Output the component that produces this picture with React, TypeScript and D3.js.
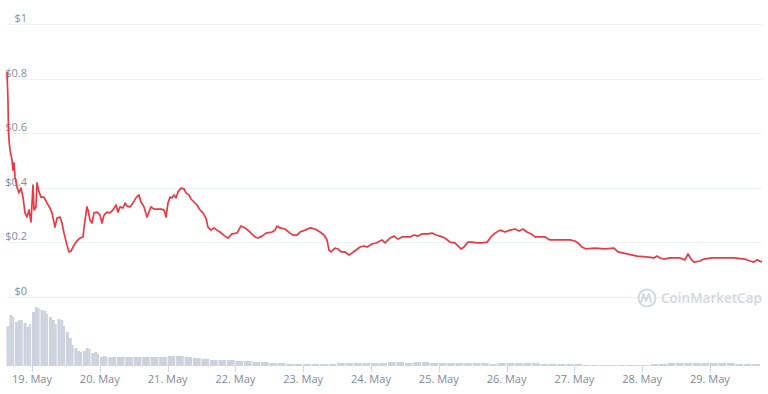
import React from "react";
import * as d3 from "d3";

// Hours relative to 19 May 00:00 (UTC)
const priceHours = [
  -8.85, -8.5, -8.32, -8.14, -7.79, -7.08, -6.73, -6.37, -6.02, -5.31, -4.6, -3.89, -3.19, -2.48, -1.77, -1.06, -0.35,
  0.35, 0.71, 1.42, 1.77, 2.48, 3.19, 4.25, 5.31, 6.37, 7.08, 8.14, 8.85, 9.91, 10.62, 11.33, 12.39, 13.1, 13.81,
  14.51, 15.58, 16.28, 16.99, 18.05, 18.76, 19.47, 19.82, 20.53, 21.24, 21.95, 23.01, 24.07, 24.78, 25.49, 26.55,
  27.61, 28.67, 29.74, 30.44, 31.15, 32.21, 32.92, 33.63, 34.69, 35.75, 36.82, 37.88, 38.59, 39.65, 40.71, 41.42,
  42.13, 43.19, 44.6, 45.67, 46.73, 47.44, 48.14, 48.85, 49.56, 50.27, 50.98, 51.68, 52.75, 53.81, 54.52, 55.58,
  56.29, 57.35, 58.41, 59.47, 60.53, 61.6, 62.3, 63.37, 64.43, 65.49, 66.55, 68.32, 69.38, 70.8, 72.57, 73.99,
  75.4, 77.17, 78.94, 80.0, 81.42, 82.84, 84.96, 86.02, 86.73, 87.79, 89.56, 91.33, 92.39, 93.81, 94.87, 96.64,
  98.41, 100.18, 101.95, 103.37, 104.43, 105.14, 105.85, 107.26, 108.32, 109.39, 110.8, 112.22, 113.28, 114.7,
  116.11, 117.53, 118.59, 120.36, 121.78, 123.9, 124.96, 126.73, 128.15, 129.56, 130.98, 133.81, 135.23, 136.64,
  138.06, 140.18, 141.6, 143.02, 144.43, 146.2, 147.97, 149.74, 150.8, 151.87, 152.93, 154.34, 155.76, 157.53,
  159.3, 161.07, 162.49, 163.9, 165.67, 167.44, 169.21, 170.98, 172.4, 173.81, 175.23, 176.65, 178.06, 179.83,
  181.6, 183.37, 186.91, 188.68, 190.45, 192.22, 193.28, 194.7, 196.12, 199.3, 202.84, 206.03, 207.44, 210.63,
  214.17, 217.36, 220.19, 221.25, 222.31, 223.73, 225.85, 229.39, 231.16, 232.22, 233.29, 234.35, 236.47, 237.89,
  240.72, 244.61, 248.5, 252.4, 254.17, 255.59, 256.65, 258.42,
];
const priceValues = [
  0.824, 0.72, 0.61, 0.575, 0.538, 0.502, 0.465, 0.491, 0.44, 0.403, 0.381, 0.399, 0.366, 0.308, 0.293, 0.319, 0.275,
  0.41, 0.319, 0.33, 0.418, 0.385, 0.366, 0.366, 0.344, 0.326, 0.308, 0.256, 0.289, 0.293, 0.271, 0.234, 0.19, 0.165, 0.168,
  0.183, 0.201, 0.209, 0.216, 0.22, 0.282, 0.33, 0.319, 0.282, 0.271, 0.308, 0.311, 0.3, 0.271, 0.3, 0.311,
  0.308, 0.319, 0.337, 0.311, 0.33, 0.326, 0.344, 0.333, 0.33, 0.344, 0.363, 0.374, 0.348, 0.33, 0.293, 0.311,
  0.33, 0.322, 0.322, 0.322, 0.319, 0.293, 0.344, 0.366, 0.363, 0.374, 0.363, 0.385, 0.399, 0.396, 0.381, 0.374,
  0.359, 0.348, 0.337, 0.319, 0.308, 0.289, 0.256, 0.245, 0.253, 0.245, 0.238, 0.223, 0.216, 0.231, 0.234, 0.26,
  0.253, 0.238, 0.22, 0.216, 0.223, 0.234, 0.238, 0.245, 0.26, 0.253, 0.249, 0.234, 0.227, 0.227, 0.238, 0.245,
  0.253, 0.249, 0.238, 0.227, 0.209, 0.172, 0.165, 0.179, 0.176, 0.165, 0.165, 0.154, 0.161, 0.172,
  0.183, 0.187, 0.183, 0.194, 0.198, 0.209, 0.198, 0.216, 0.223, 0.212, 0.22, 0.22, 0.227, 0.223,
  0.231, 0.231, 0.234, 0.227, 0.223, 0.216, 0.201, 0.198, 0.187, 0.176, 0.183, 0.201, 0.201, 0.198,
  0.198, 0.201, 0.22, 0.234, 0.245, 0.238, 0.245, 0.249, 0.242, 0.249, 0.238, 0.231, 0.22, 0.22,
  0.22, 0.209, 0.209, 0.209, 0.209, 0.205, 0.198, 0.183, 0.176, 0.179, 0.176, 0.179, 0.165, 0.158,
  0.15, 0.147, 0.143, 0.15, 0.143, 0.139, 0.143, 0.143, 0.136, 0.158, 0.139, 0.128, 0.132, 0.139,
  0.143, 0.143, 0.143, 0.139, 0.132, 0.128, 0.136, 0.128,
];

// Volume: hourly for the first 36 hours, then 3-hour buckets (relative units)
const volumeHourlyStart = -9;
const volumeHourly = [
  40, 51, 49, 44, 46, 46, 43, 39, 42, 54, 59, 58, 56, 55, 52, 49, 46, 42, 47, 46, 40, 34, 28, 21, 18, 15, 14, 15,
  18, 17, 13, 14, 12, 9, 10, 9,
];
const volume3hStart = 27;
const volume3h = [
  9, 9, 9, 9, 9, 9, 9, 10, 10, 9, 8, 7, 6, 6, 6, 5, 5, 4, 4, 3, 3,
  2, 2, 2, 2, 2, 2, 3, 3, 3, 3, 3, 3, 4, 4, 3, 4, 4, 3, 3, 3, 3, 3, 3, 3, 2, 3, 3, 3, 3, 3, 2, 2, 2, 2, 2, 1, 1,
  1, 1, 1, 1, 1, 1, 2, 2, 3, 3, 3, 3, 3, 3, 3, 3, 2, 2, 2,
];

const yTicks = [0, 0.2, 0.4, 0.6, 0.8, 1];

const BASE = Date.UTC(2021, 4, 19);
const toDate = (h: number) => new Date(BASE + h * 3600 * 1000);

export default function App() {
  const W = 768, H = 394;
  const dates = priceHours.map(toDate);
  const x = d3.scaleUtc().domain([dates[0], dates[dates.length - 1]]).range([7, 762]);
  const y = d3.scaleLinear().domain([0, 1]).range([297, 24]);
  const vy = d3.scaleLinear().domain([0, 61]).range([366, 305]);

  const data = priceHours.map((h, i) => ({ d: toDate(h), v: priceValues[i] }));
  const line = d3.line<{ d: Date; v: number }>().x((p) => x(p.d)).y((p) => y(p.v));

  const bars: { h0: number; h1: number; v: number; gap: number }[] = [];
  volumeHourly.forEach((v, j) => {
    const h0 = volumeHourlyStart + j;
    bars.push({ h0, h1: h0 + 1, v, gap: j % 3 === 2 ? 0.8 : -0.2 });
  });
  volume3h.forEach((v, i) => {
    const h0 = volume3hStart + i * 3;
    bars.push({ h0, h1: h0 + 3, v, gap: 0.8 });
  });

  const xTicks = d3.utcDay.range(new Date(BASE), new Date(BASE + 11 * 86400000));
  const fmt = d3.utcFormat("%-d. %b");

  const font = "'Open Sans', 'Noto Sans', sans-serif";

  return (
    <svg width={W} height={H} style={{ position: "absolute", left: 0, top: 0, background: "#fff" }}>
      {yTicks.map((t) => (
        <line key={"g" + t} x1={7} x2={762} y1={Math.round(y(t)) + 0.5} y2={Math.round(y(t)) + 0.5} stroke="#eff2f5" strokeWidth={1} />
      ))}
      {bars.map((b, i) => {
        const x0 = x(toDate(b.h0));
        const x1 = Math.min(762, x(toDate(b.h1)));
        return (
          <rect key={"v" + i} x={x0} y={vy(b.v)} width={Math.max(0, x1 - x0 - b.gap)} height={366 - vy(b.v)} fill="#cdd2de" />
        );
      })}
      <g>
        <circle cx={647} cy={298} r={8.5} fill="none" stroke="#d3d8e1" strokeWidth={2} />
        <path d="M641,302 L643.5,294 L646,301 L649,294 L651,302" fill="none" stroke="#d3d8e1" strokeWidth={2} strokeLinejoin="round" strokeLinecap="round" />
        <text x={661} y={303} fontFamily={font} fontSize={13.5} fontWeight={600} fill="#d3d8e1">CoinMarketCap</text>
      </g>
      {yTicks.map((t) => (
        <text key={"l" + t} x={27} y={y(t) - 2} textAnchor="end" fontFamily={font} fontSize={11} fill="#858ca2">
          {"$" + String(t)}
        </text>
      ))}
      <path d={line(data) || ""} fill="none" stroke="#ea3943" strokeWidth={1.7} strokeLinejoin="round" />
      {xTicks.map((t) => (
        <g key={"x" + t.getTime()}>
          <line x1={Math.round(x(t)) + 0.5} x2={Math.round(x(t)) + 0.5} y1={366} y2={372} stroke="#ccd6eb" />
          <text x={x(t)} y={383} textAnchor="middle" fontFamily={font} fontSize={11} fill="#808a9d">
            {fmt(t)}
          </text>
        </g>
      ))}
    </svg>
  );
}
